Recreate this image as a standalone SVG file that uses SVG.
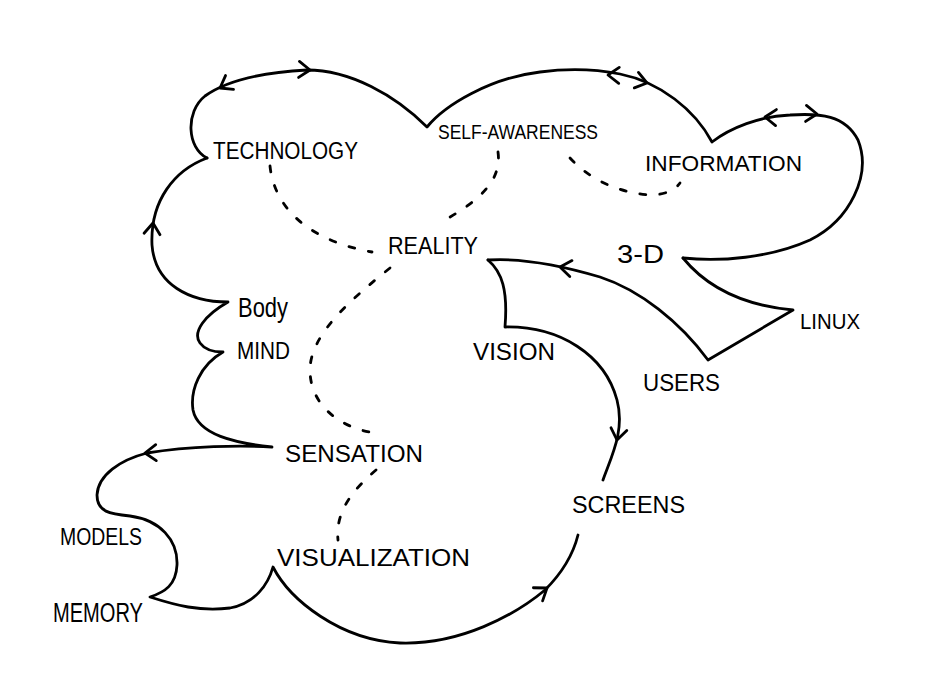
<svg xmlns="http://www.w3.org/2000/svg" width="940" height="686" viewBox="0 0 940 686">
<style>
.ln{fill:none;stroke:#000;stroke-width:2.8;stroke-linecap:round;stroke-linejoin:round}
.dash{fill:none;stroke:#000;stroke-width:2.8;stroke-linecap:round;stroke-dasharray:6 14}
.t{font-family:"Liberation Sans","DejaVu Sans",sans-serif;fill:#000}
</style>
<defs>
<path id="chev" d="M-11,-8 L0,0 L-11,8" fill="none" stroke="#000" stroke-width="2.8" stroke-linecap="round" stroke-linejoin="round"/>
</defs>
<rect width="940" height="686" fill="#fff"/>
<g id="connectors">
<path class="ln" d="M207,158 C187,148 185,112 205,96 C230,78 270,72 307,70 C350,70 395,95 427,127 C445,105 490,78 540,72 C570,68 600,70 620,74 C660,82 695,110 712,142 C730,128 760,116 790,115 C820,113 845,115 858,140 C872,175 850,220 810,240 C770,258 720,262 683,258"/>
<path class="ln" d="M683,258 C705,285 740,305 793,310 L708,360 C680,322 640,290 600,277 C560,265 520,258 488,260"/>
<path class="ln" d="M488,260 C502,272 508,290 505,327 C560,326 605,355 617,400 C625,430 612,455 603,480"/>
<path class="ln" d="M207,158 C175,170 150,200 152,245 C155,285 190,302 228,302 C205,315 192,332 200,343 C205,350 215,352 223,352 C200,365 190,390 193,410 C198,435 235,443 272,447 C240,445 190,446 147,453 C120,460 98,475 97,495 C97,512 110,514 130,516 C160,520 178,540 177,565 C176,585 165,592 150,597 C175,605 200,612 230,608 C255,603 268,585 273,567 C290,600 340,640 400,643 C460,645 515,615 545,590 C560,575 573,555 578,535"/>
<path class="dash" d="M270,166 C274,205 305,240 372,252"/>
<path class="dash" d="M498,152 C502,180 480,200 445,220"/>
<path class="dash" d="M570,158 C590,180 620,193 650,195 C665,195 675,190 680,183"/>
<path class="dash" d="M390,268 C350,300 310,335 310,370 C310,405 340,428 375,433"/>
<path class="dash" d="M376,470 C355,488 335,510 338,540"/>
<use href="#chev" transform="translate(220,88) rotate(150)"/>
<use href="#chev" transform="translate(310,70) rotate(3)"/>
<use href="#chev" transform="translate(608,75) rotate(182)"/>
<use href="#chev" transform="translate(647,83) rotate(15)"/>
<use href="#chev" transform="translate(765,117) rotate(183)"/>
<use href="#chev" transform="translate(817,114) rotate(3)"/>
<use href="#chev" transform="translate(153,223) rotate(-85)"/>
<use href="#chev" transform="translate(145,453) rotate(178)"/>
<use href="#chev" transform="translate(547,588) rotate(-35)"/>
<use href="#chev" transform="translate(560,267) rotate(188)"/>
<use href="#chev" transform="translate(617,440) rotate(100)"/>
</g>
<g id="technology"><text class="t" x="213" y="159" font-size="23" textLength="145" lengthAdjust="spacingAndGlyphs">TECHNOLOGY</text></g>
<g id="self-awareness"><text class="t" x="438" y="139" font-size="20" textLength="160" lengthAdjust="spacingAndGlyphs">SELF-AWARENESS</text></g>
<g id="information"><text class="t" x="645" y="171" font-size="22" textLength="157" lengthAdjust="spacingAndGlyphs">INFORMATION</text></g>
<g id="reality"><text class="t" x="388" y="254" font-size="23" textLength="90" lengthAdjust="spacingAndGlyphs">REALITY</text></g>
<g id="three-d"><text class="t" x="617" y="263" font-size="26" textLength="47" lengthAdjust="spacingAndGlyphs">3-D</text></g>
<g id="body"><text class="t" x="238" y="317" font-size="28" textLength="50" lengthAdjust="spacingAndGlyphs">Body</text></g>
<g id="mind"><text class="t" x="237" y="359" font-size="23" textLength="53" lengthAdjust="spacingAndGlyphs">MIND</text></g>
<g id="vision"><text class="t" x="473" y="360" font-size="23" textLength="82" lengthAdjust="spacingAndGlyphs">VISION</text></g>
<g id="users"><text class="t" x="643" y="391" font-size="24" textLength="77" lengthAdjust="spacingAndGlyphs">USERS</text></g>
<g id="linux"><text class="t" x="800" y="329" font-size="22" textLength="60" lengthAdjust="spacingAndGlyphs">LINUX</text></g>
<g id="sensation"><text class="t" x="285" y="462" font-size="23" textLength="138" lengthAdjust="spacingAndGlyphs">SENSATION</text></g>
<g id="screens"><text class="t" x="572" y="513" font-size="23" textLength="113" lengthAdjust="spacingAndGlyphs">SCREENS</text></g>
<g id="models"><text class="t" x="60" y="545" font-size="24" textLength="82" lengthAdjust="spacingAndGlyphs">MODELS</text></g>
<g id="memory"><text class="t" x="53" y="622" font-size="27" textLength="90" lengthAdjust="spacingAndGlyphs">MEMORY</text></g>
<g id="visualization"><text class="t" x="277" y="566" font-size="23" textLength="193" lengthAdjust="spacingAndGlyphs">VISUALIZATION</text></g>
</svg>
